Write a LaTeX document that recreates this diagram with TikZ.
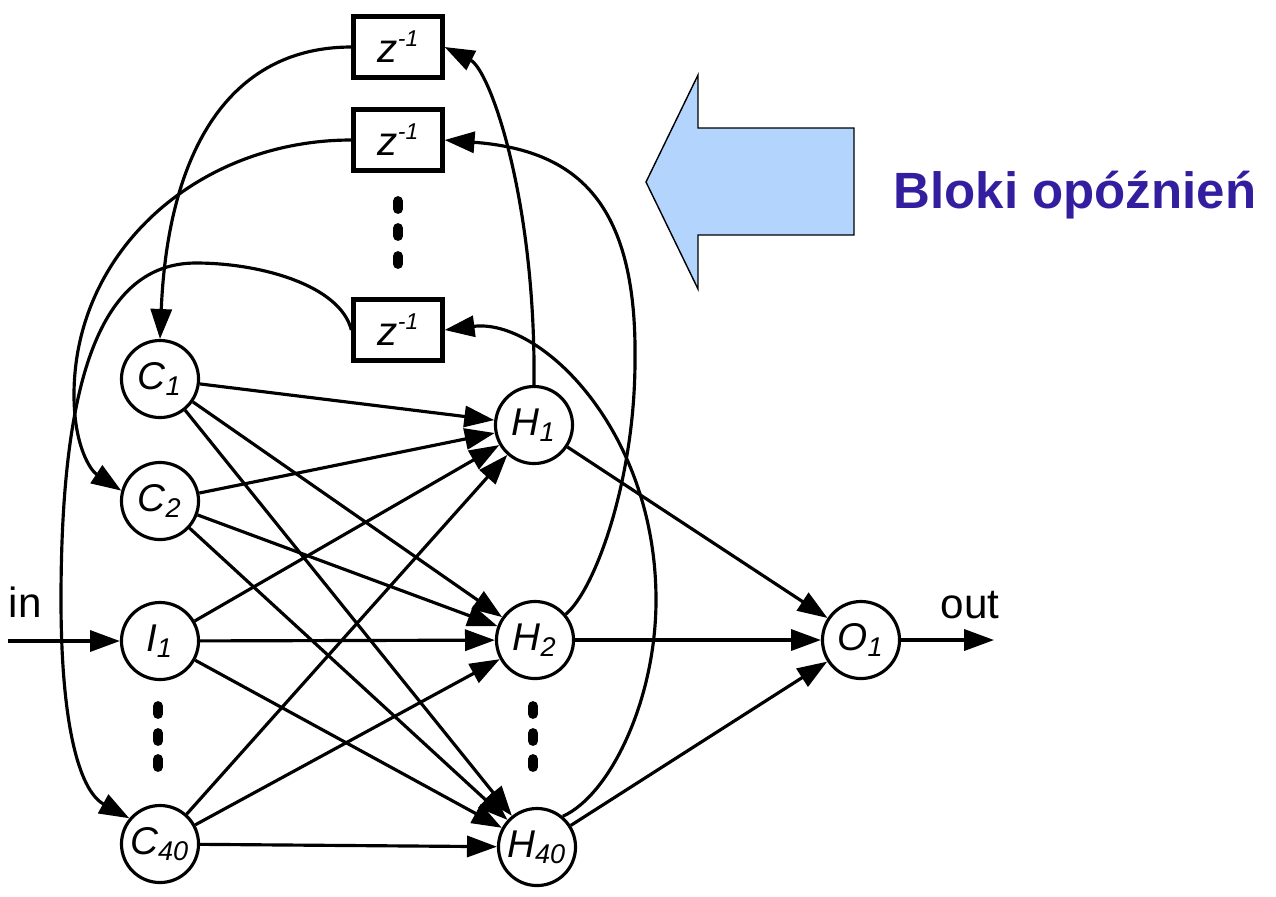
\documentclass[tikz,border=0pt]{standalone}
\usepackage{fontspec}
\setmainfont{Liberation Sans}
\usetikzlibrary{arrows.meta}
\definecolor{arrowblue}{RGB}{179,212,252}
\definecolor{labelblue}{RGB}{52,30,160}
\newcommand{\zdelay}{z\raisebox{4.5pt}{\fontsize{6.5}{7}\selectfont -1}}

\begin{document}
\begin{tikzpicture}[x=0.01cm, y=-0.01cm,
  neuron/.style={circle, draw, line width=0.9pt, minimum size=0.77cm, inner sep=0pt, font=\fontsize{11}{13}\selectfont\itshape},
  delay/.style={rectangle, draw, line width=1.2pt, minimum width=0.89cm, minimum height=0.61cm, inner sep=0pt, font=\fontsize{11.5}{13}\selectfont\itshape},
  conn/.style={line width=0.9pt, -{Triangle[length=8.5pt, width=6pt]}},
  vdots/.style={line width=2.8pt, line cap=round}]
\useasboundingbox (0,0) rectangle (1276,896);
% blue arrow and caption
\draw [fill=arrowblue, line width=0.4pt] (646,182) -- (698,75) -- (698,128) -- (854,128) -- (854,235) -- (698,235) -- (698,289) -- cycle;
\node [anchor=base west, inner sep=0pt, text=labelblue, font=\bfseries\fontsize{14.5}{17}\selectfont] (caption) at (893,208) {Bloki opóźnień};
% delay blocks
\node [delay] (delay1) at (398,47) {\zdelay};
\node [delay] (delay2) at (398,140) {\zdelay};
\node [delay] (delay3) at (398,330) {\zdelay};
% neurons
\node [neuron] (C1) at (160,379) {C\textsubscript{1}};
\node [neuron] (C2) at (160,501) {C\textsubscript{2}};
\node [neuron] (I1) at (160,641) {I\textsubscript{1}};
\node [neuron] (C40) at (160,844) {C\textsubscript{40}};
\node [neuron] (H1) at (534,425) {H\textsubscript{1}};
\node [neuron] (H2) at (535,640) {H\textsubscript{2}};
\node [neuron] (H40) at (537,847) {H\textsubscript{40}};
\node [neuron] (O1) at (861,640) {O\textsubscript{1}};
% input and output
\coordinate (inpt) at (8,641);
\coordinate (outpt) at (994,640);
\node [anchor=base west, inner sep=0pt, font=\fontsize{12}{14}\selectfont] (inlabel) at (8,617) {in};
\node [anchor=base west, inner sep=0pt, font=\fontsize{12}{14}\selectfont] (outlabel) at (940,618) {out};
\draw [conn] (inpt) -- (I1);
\draw [conn] (O1) -- (outpt);
% forward connections
\foreach \s in {C1,C2,I1,C40} {
  \foreach \h in {H1,H2,H40} {
    \draw [conn] (\s) -- (\h);
  }
}
\foreach \h in {H1,H2,H40}
  \draw [conn] (\h) -- (O1);
% feedback through the delays
\draw [conn] (H1.north) .. controls (536,200) and (490,70) .. (delay1.east);
\draw [conn] (H2.40) .. controls (595,590) and (635,480) .. (635,360) .. controls (637,200) and (575,150) .. (delay2.east);
\draw [conn] (H40.50) .. controls (610,795) and (656,700) .. (656,600) .. controls (656,430) and (540,318) .. (delay3.east);
\draw [conn] (delay1.west) .. controls (230,47) and (168,150) .. (C1.north);
\draw [conn] (delay2.west) .. controls (199,140) and (74,250) .. (74,395) .. controls (74,445) and (90,470) .. (C2.165);
\draw [conn] (delay3.west) .. controls (340,285) and (260,263) .. (196,263) .. controls (100,263) and (61,380) .. (61,600) .. controls (61,720) and (78,790) .. (C40.140);
% dots
\foreach \y in {710,737,763} {
  \draw [vdots] (158,\y-4) -- (158,\y+4);
  \draw [vdots] (533,\y-4) -- (533,\y+4);
}
\foreach \y in {205,232,260}
  \draw [vdots] (398,\y-4) -- (398,\y+4);
\end{tikzpicture}
\end{document}
